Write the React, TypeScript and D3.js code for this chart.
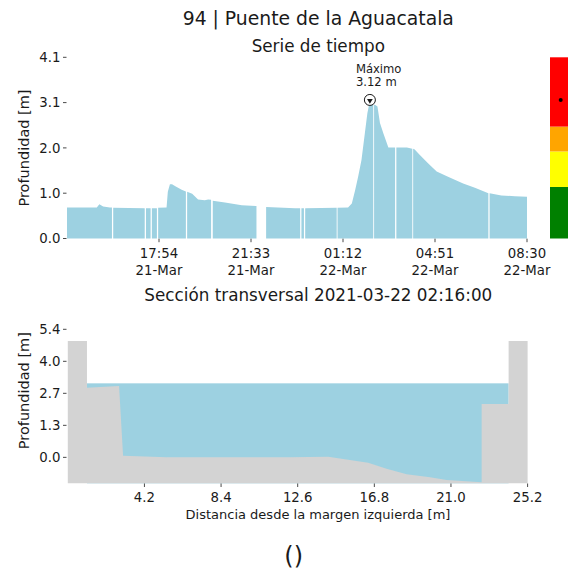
import React from "react";
import * as d3 from "d3";

// ---------- Time series (depth in m) ----------
const seriesTimes = [
  "2021-03-21 14:15", "2021-03-21 15:26", "2021-03-21 15:32", "2021-03-21 15:41", "2021-03-21 15:57",
  "2021-03-21 16:02", "2021-03-21 16:03", "2021-03-21 16:05", "2021-03-21 17:20", "2021-03-21 17:21",
  "2021-03-21 17:23", "2021-03-21 17:34", "2021-03-21 17:35", "2021-03-21 17:37", "2021-03-21 17:49",
  "2021-03-21 17:50", "2021-03-21 17:52", "2021-03-21 18:12", "2021-03-21 18:15", "2021-03-21 18:20",
  "2021-03-21 18:25", "2021-03-21 18:34", "2021-03-21 18:48", "2021-03-21 18:58", "2021-03-21 18:59",
  "2021-03-21 19:01", "2021-03-21 19:13", "2021-03-21 19:27", "2021-03-21 19:43", "2021-03-21 19:51",
  "2021-03-21 19:58", "2021-03-21 19:59", "2021-03-21 20:02", "2021-03-21 20:31", "2021-03-21 21:11",
  "2021-03-21 21:46", "2021-03-21 21:47", "2021-03-21 22:09", "2021-03-21 23:18", "2021-03-21 23:30",
  "2021-03-21 23:31", "2021-03-21 23:33", "2021-03-21 23:39", "2021-03-21 23:40", "2021-03-21 23:42",
  "2021-03-22 00:57", "2021-03-22 00:58", "2021-03-22 00:59", "2021-03-22 01:24", "2021-03-22 01:33",
  "2021-03-22 01:41", "2021-03-22 01:48", "2021-03-22 01:56", "2021-03-22 02:04", "2021-03-22 02:10",
  "2021-03-22 02:14", "2021-03-22 02:16", "2021-03-22 02:22", "2021-03-22 02:24", "2021-03-22 02:25",
  "2021-03-22 02:26", "2021-03-22 02:28", "2021-03-22 02:34", "2021-03-22 02:40", "2021-03-22 02:48",
  "2021-03-22 03:00", "2021-03-22 03:16", "2021-03-22 03:17", "2021-03-22 03:19", "2021-03-22 03:44",
  "2021-03-22 03:57", "2021-03-22 03:58", "2021-03-22 03:59", "2021-03-22 04:02", "2021-03-22 04:15",
  "2021-03-22 04:35", "2021-03-22 04:55", "2021-03-22 05:22", "2021-03-22 05:58", "2021-03-22 06:26",
  "2021-03-22 06:58", "2021-03-22 06:59", "2021-03-22 07:01", "2021-03-22 07:29", "2021-03-22 08:01",
  "2021-03-22 08:30",
];
const seriesDepth: (number | null)[] = [
  0.70, 0.70, 0.77, 0.72, 0.70,
  0.70, null, 0.69, 0.68, null,
  0.68, 0.68, null, 0.68, 0.68,
  null, 0.69, 0.70, 1.05, 1.22,
  1.22, 1.17, 1.10, 1.06, null,
  1.05, 1.01, 0.88, 0.86, 0.88,
  0.87, null, 0.85, 0.81, 0.75,
  0.73, null, 0.71, 0.68, 0.68,
  null, 0.68, 0.68, null, 0.68,
  0.69, null, 0.69, 0.70, 0.79,
  1.09, 1.39, 1.77, 2.37, 2.82,
  3.01, 3.12, 3.02, 3.02, null,
  3.01, 3.01, 2.97, 2.60, 2.37,
  2.05, 2.05, null, 2.05, 2.05,
  2.02, null, 2.02, 2.01, 1.88,
  1.69, 1.51, 1.39, 1.24, 1.14,
  1.02, null, 1.02, 0.97, 0.95,
  0.94,
];
const timeDomain = ["2021-03-21 14:15", "2021-03-22 08:30"];
const timeTicks = ["2021-03-21 17:54", "2021-03-21 21:33", "2021-03-22 01:12", "2021-03-22 04:51", "2021-03-22 08:30"];
const depthTicks = [0, 1.02, 2.04, 3.06, 4.08];

// ---------- Alert colour bar ----------
const alertLevels = [0, 1.16, 1.96, 2.52, 4.08];
const alertColors = ["#008000", "#ffff00", "#ffa500", "#ff0000"];

// ---------- Cross section ----------
const sectionDist = [0, 1.05, 1.05, 2.81, 3.03, 5.41, 12.17, 14.27, 16.46, 17.47, 18.57, 19.85, 20.76, 22.68, 22.68, 24.16, 24.16, 25.2];
const sectionBed = [4.89, 4.89, 2.92, 3.0, 0.07, 0.0, 0.0, 0.03, -0.23, -0.48, -0.71, -0.84, -0.95, -1.05, 2.24, 2.24, 4.89, 4.89];
const waterSpan = [1.05, 24.16];
const waterLevel = 3.11;
const distTicks = [4.2, 8.4, 12.6, 16.8, 21.0, 25.2];
const elevTicks = [0, 1.345, 2.69, 4.035, 5.38];
const elevBottom = -1.09;

const FONT = "DejaVu Sans, sans-serif";
const WATER = "#9dd1e1";
const GROUND = "#d3d3d3";
const INK = "#1a1a1a";

export default function App() {
  const parse = d3.timeParse("%Y-%m-%d %H:%M");
  const pts = seriesTimes.map((t, i) => ({ t: parse(t) as Date, v: seriesDepth[i] }));

  // top chart scales
  const xT = d3.scaleTime().domain(timeDomain.map((s) => parse(s) as Date)).range([67, 527]);
  const yT = d3.scaleLinear().domain([0, 4.08]).range([238.5, 57.3]);
  const area = d3
    .area<{ t: Date; v: number | null }>()
    .defined((d) => d.v !== null)
    .x((d) => xT(d.t))
    .y0(yT(0))
    .y1((d) => yT(d.v as number));

  const defined = pts.filter((d) => d.v !== null) as { t: Date; v: number }[];
  const maxPt = defined.reduce((a, b) => (b.v > a.v ? b : a));
  const mx = xT(maxPt.t);
  const my = yT(maxPt.v);
  const fmtH = d3.timeFormat("%H:%M");
  const fmtD = d3.timeFormat("%d-%b");

  // bottom chart scales
  const xS = d3.scaleLinear().domain([0, 25.2]).range([67.8, 527.6]);
  const yS = d3.scaleLinear().domain([elevBottom, 5.38]).range([483.3, 329.3]);
  const ground = d3
    .area<number>()
    .x((_, i) => xS(sectionDist[i]))
    .y0(yS(elevBottom))
    .y1((d) => yS(d));

  return (
    <div style={{ position: "absolute", left: 0, top: 0 }}>
      <svg width={568} height={571} style={{ display: "block", fontFamily: FONT }}>
        <rect x={0} y={0} width={568} height={571} fill="#fff" />
        {/* Titles */}
        <text x={318.3} y={25} textAnchor="middle" fontSize={18.8} fill={INK}>
          94 | Puente de la Aguacatala
        </text>
        <text x={318.3} y={51.5} textAnchor="middle" fontSize={16.8} fill={INK}>
          Serie de tiempo
        </text>

        {/* Time series area */}
        <path d={area(pts) || ""} fill={WATER} />

        {/* y ticks top */}
        {depthTicks.map((v) => (
          <g key={"yt" + v}>
            <line x1={63} x2={66.5} y1={yT(v)} y2={yT(v)} stroke={INK} strokeWidth={0.8} />
            <text x={60.5} y={yT(v)} dy="0.36em" textAnchor="end" fontSize={13.3} fill={INK}>
              {v.toFixed(1)}
            </text>
          </g>
        ))}
        {/* x ticks top */}
        {timeTicks.map((s) => {
          const d = parse(s) as Date;
          const x = xT(d);
          return (
            <g key={"xt" + s}>
              <line x1={x} x2={x} y1={238.7} y2={242.2} stroke={INK} strokeWidth={0.8} />
              <text x={x} y={258.3} textAnchor="middle" fontSize={13.3} fill={INK}>
                {fmtH(d)}
              </text>
              <text x={x} y={275} textAnchor="middle" fontSize={13.3} fill={INK}>
                {fmtD(d)}
              </text>
            </g>
          );
        })}
        <text transform={`translate(28.5,148) rotate(-90)`} textAnchor="middle" fontSize={14.5} fill={INK}>
          Profundidad [m]
        </text>

        {/* Maximum marker */}
        <circle cx={mx} cy={my} r={5.5} fill="#fff" stroke={INK} strokeWidth={1} />
        <path
          d={d3.symbol().type(d3.symbolTriangle).size(14)() || ""}
          transform={`translate(${mx},${my + 0.6}) rotate(180)`}
          fill={INK}
        />
        <text x={mx - 14} y={73} fontSize={11.6} fill={INK}>
          Máximo
        </text>
        <text x={mx - 14} y={85.7} fontSize={11.6} fill={INK}>
          {maxPt.v.toFixed(2)} m
        </text>

        {/* Alert colour bar */}
        {alertColors.map((c, i) => (
          <rect
            key={"al" + i}
            x={550}
            width={20}
            y={yT(alertLevels[i + 1])}
            height={yT(alertLevels[i]) - yT(alertLevels[i + 1])}
            fill={c}
          />
        ))}
        <circle cx={560.7} cy={my} r={2} fill="#000" />

        {/* Cross section */}
        <text x={318.3} y={301} textAnchor="middle" fontSize={16.8} fill={INK}>
          Sección transversal 2021-03-22 02:16:00
        </text>
        <rect
          x={xS(waterSpan[0])}
          width={xS(waterSpan[1]) - xS(waterSpan[0])}
          y={yS(waterLevel)}
          height={yS(elevBottom) - yS(waterLevel)}
          fill={WATER}
        />
        <path d={ground(sectionBed) || ""} fill={GROUND} />

        {elevTicks.map((v) => (
          <g key={"ye" + v}>
            <line x1={63} x2={66.5} y1={yS(v)} y2={yS(v)} stroke={INK} strokeWidth={0.8} />
            <text x={60.5} y={yS(v)} dy="0.36em" textAnchor="end" fontSize={13.3} fill={INK}>
              {v.toFixed(1)}
            </text>
          </g>
        ))}
        {distTicks.map((v) => (
          <g key={"xd" + v}>
            <line x1={xS(v)} x2={xS(v)} y1={483.5} y2={487} stroke={INK} strokeWidth={0.8} />
            <text x={xS(v)} y={501.7} textAnchor="middle" fontSize={13.3} fill={INK}>
              {v.toFixed(1)}
            </text>
          </g>
        ))}
        <text transform={`translate(28.5,390.7) rotate(-90)`} textAnchor="middle" fontSize={14.5} fill={INK}>
          Profundidad [m]
        </text>
        <text x={318} y={519.3} textAnchor="middle" fontSize={13} fill={INK}>
          Distancia desde la margen izquierda [m]
        </text>

        <text x={293.7} y={563.5} textAnchor="middle" fontSize={24} fill={INK}>
          ()
        </text>
      </svg>
    </div>
  );
}
